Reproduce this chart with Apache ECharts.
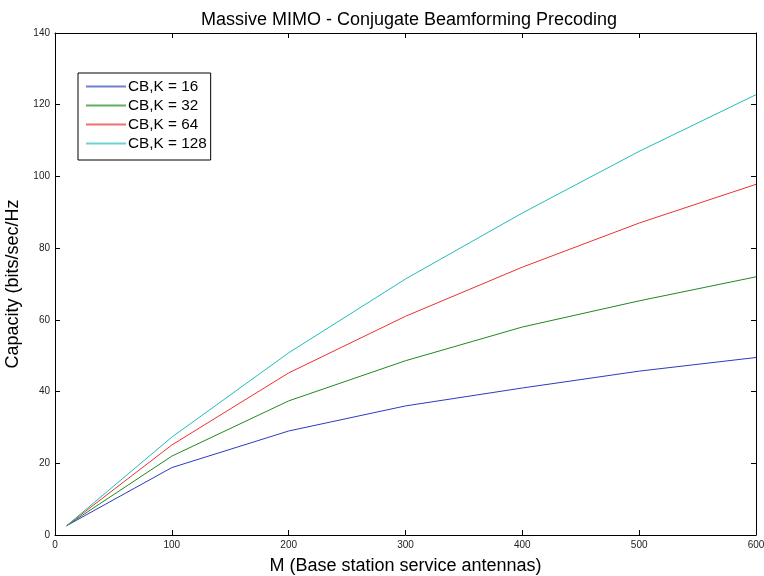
<!DOCTYPE html>
<html>
<head>
<meta charset="utf-8">
<script src="https://cdn.jsdelivr.net/npm/echarts@6/dist/echarts.min.js"></script>
<style>
  html, body { margin: 0; padding: 0; background: #fff; }
  #graphe { width: 764px; height: 576px; }
</style>
</head>
<body>
<div id="graphe"></div>
<script>
// antennas M
const antennas = [10, 100, 200, 300, 400, 500, 600];
// capacity per number of users K
const capK16 = [2.6, 18.8, 29.0, 36.0, 41.0, 45.7, 49.5];
const capK32 = [2.6, 22.0, 37.4, 48.6, 58.0, 65.3, 72.0];
const capK64 = [2.6, 25.1, 45.2, 61.0, 74.7, 87.0, 97.8];
const capK128 = [2.6, 27.3, 50.8, 71.4, 89.8, 107.0, 122.8];
const seriesNames = ["CB,K = 16", "CB,K = 32", "CB,K = 64", "CB,K = 128"];
const colors = ["#2a3cc0", "#1f8a1f", "#ee3030", "#22bcbc"];
const legendColors = ["#7080d0", "#60b060", "#f07070", "#70d0d0"];

const allCaps = [capK16, capK32, capK64, capK128];
const font = "Liberation Sans, Arial, sans-serif";

const chart = echarts.init(document.getElementById("graphe"));

const series = seriesNames.map((name, i) => ({
    name: name,
    type: "line",
    symbol: "none",
    data: antennas.map((m, j) => [m, allCaps[i][j]]),
    lineStyle: { color: colors[i], width: 1 },
    itemStyle: { color: colors[i] },
    xAxisIndex: 0,
    yAxisIndex: 0
}));

// box axes (matlab style, ticks inside on all four sides)
const boxAxis = {
    axisLine: { show: true, onZero: false, lineStyle: { color: "#000", width: 1 } },
    axisTick: { show: true, inside: true, length: 5, lineStyle: { color: "#000" } },
    splitLine: { show: false }
};

chart.setOption({
    animation: false,
    backgroundColor: "#fff",
    title: {
        text: "Massive MIMO - Conjugate Beamforming Precoding",
        left: 404, textAlign: "center", top: 6,
        textStyle: { fontFamily: font, fontSize: 18, fontWeight: "normal", color: "#000" }
    },
    legend: {
        orient: "vertical",
        left: 78, top: 73,
        data: seriesNames.map((n, i) => ({ name: n, itemStyle: { color: legendColors[i] } })),
        icon: "rect",
        itemWidth: 40, itemHeight: 2,
        itemGap: 4,
        padding: [6, 4, 9, 8],
        borderColor: "#000", borderWidth: 1,
        backgroundColor: "#fff",
        textStyle: { fontFamily: font, fontSize: 15.3, lineHeight: 14, color: "#000", padding: [0, 0, 0, -3] }
    },
    grid: { left: 55, right: 8, top: 33, bottom: 41, containLabel: false, outerBoundsMode: "none" },
    xAxis: [
        Object.assign({
            type: "value", min: 0, max: 600, interval: 100,
            name: "M (Base station service antennas)",
            nameLocation: "middle", nameGap: 22,
            nameTextStyle: { fontFamily: font, fontSize: 18, color: "#000" },
            axisLabel: { fontFamily: font, fontSize: 10, color: "#222", margin: 5 }
        }, boxAxis),
        Object.assign({
            type: "value", min: 0, max: 600, interval: 100, position: "top",
            axisLabel: { show: false }
        }, boxAxis)
    ],
    yAxis: [
        Object.assign({
            type: "value", min: 0, max: 140, interval: 20,
            name: "Capacity (bits/sec/Hz",
            nameLocation: "middle", nameGap: 31,
            nameTextStyle: { fontFamily: font, fontSize: 18, color: "#000" },
            axisLabel: { fontFamily: font, fontSize: 10, color: "#222", margin: 5 }
        }, boxAxis),
        Object.assign({
            type: "value", min: 0, max: 140, interval: 20, position: "right",
            axisLabel: { show: false }
        }, boxAxis)
    ],
    series: series
});
</script>
</body>
</html>
